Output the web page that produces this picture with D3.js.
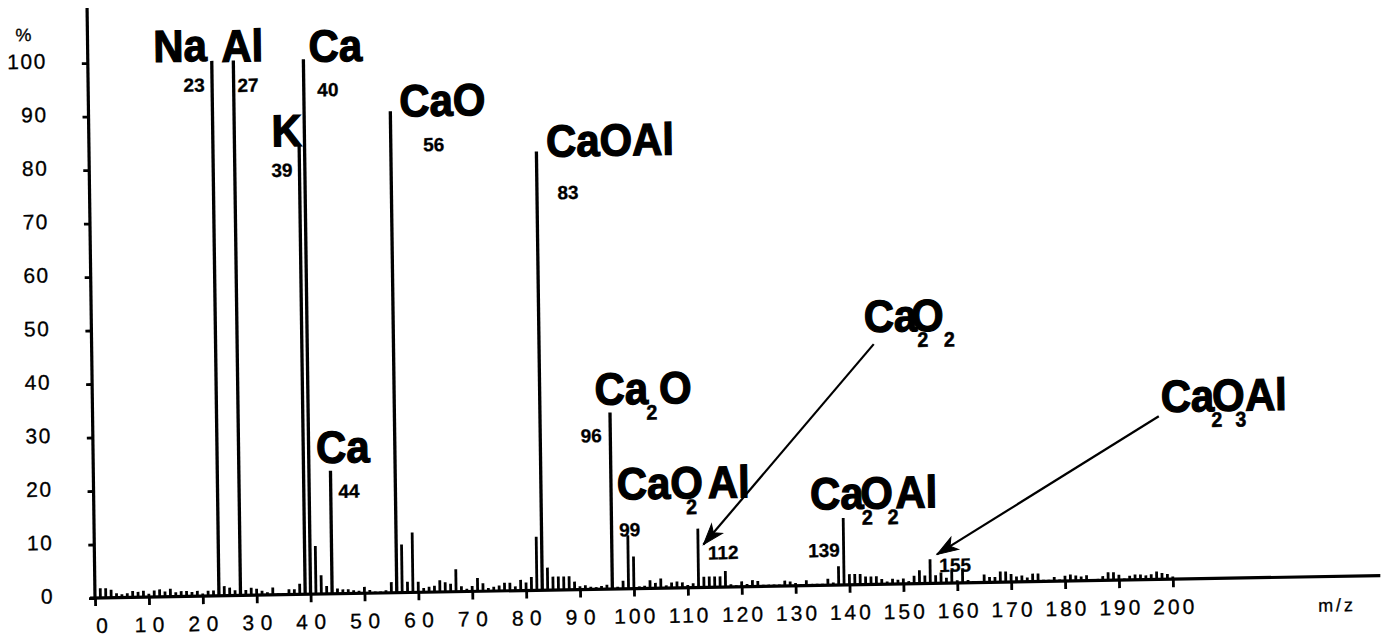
<!DOCTYPE html>
<html>
<head>
<meta charset="utf-8">
<script src="https://cdn.jsdelivr.net/npm/d3@7"></script>
<style>
    body { margin: 0; background: #fff; }
    svg { display: block; }
    .tick-label { font-family: "Liberation Sans", Arial, sans-serif; font-size: 21px; fill: #000; stroke: #000; stroke-width: 0.3px; }
    .formula { font-family: "Liberation Sans", Arial, sans-serif; font-weight: bold; font-size: 45px; fill: #000; stroke: #000; stroke-width: 1.3px; }
    .formula .sub { font-size: 21px; stroke-width: 0.6px; }
    .mass-label { font-family: "Liberation Sans", Arial, sans-serif; font-weight: bold; font-size: 19px; fill: #000; stroke: #000; stroke-width: 0.3px; }
    .unit-label { font-family: "Liberation Sans", Arial, sans-serif; font-size: 18px; fill: #000; stroke: #000; stroke-width: 0.3px; }
</style>
</head>
<body>
<div class="spectrum"></div>
<script>

// relative intensity (%) for every unit mass, m/z 1 ... 200
var intensity = [
    // 1-10
    1.8, 1.8, 1.5, 0.8, 0.6, 0.8, 1.2, 1.0, 1.2, 0.6,
    // 11-20
    1.2, 1.4, 1.0, 1.5, 0.8, 1.0, 1.0, 0.8, 1.0, 0.5,
    // 21-30
    1.0, 1.0, 100, 1.8, 1.5, 1.0, 100, 1.0, 1.4, 1.2,
    // 31-40
    0.8, 0.5, 1.4, 0.3, 0.3, 1.0, 1.0, 2.0, 84, 100,
    // 41-50
    9.0, 3.5, 1.5, 23, 1.0, 0.8, 0.8, 0.6, 0.5, 1.2,
    // 51-60
    0.6, 0.3, 0.3, 0.5, 2.0, 90, 9.0, 2.0, 11.2, 2.0,
    // 61-70
    0.8, 1.0, 1.2, 2.2, 1.8, 1.5, 4.2, 1.0, 0.5, 1.0,
    // 71-80
    2.5, 1.5, 0.6, 0.8, 1.0, 1.5, 1.5, 0.8, 2.0, 1.5,
    // 81-90
    2.5, 10, 82, 4.2, 2.5, 2.5, 2.5, 2.5, 1.5, 0.6,
    // 91-100
    0.8, 0.5, 0.4, 0.6, 0.8, 33, 0.4, 1.5, 10, 6.0,
    // 101-110
    0.4, 0.5, 1.5, 1.0, 1.8, 0.5, 1.0, 1.2, 1.0, 0.5,
    // 111-120
    0.8, 11, 2.0, 2.0, 2.0, 2.0, 3.0, 0.5, 0.3, 1.0,
    // 121-130
    0.5, 1.2, 1.0, 0.3, 0.3, 0.3, 0.3, 1.0, 0.8, 0.5,
    // 131-140
    0.3, 1.0, 0.3, 0.3, 0.3, 1.2, 0.5, 3.5, 12.5, 2.0,
    // 141-150
    2.0, 2.0, 1.5, 1.5, 1.5, 1.0, 0.5, 1.0, 0.8, 1.0,
    // 151-160
    0.5, 1.5, 2.5, 1.5, 4.5, 1.5, 2.0, 1.0, 2.5, 0.5,
    // 161-170
    2.5, 0.5, 0.3, 0.3, 1.5, 1.0, 1.0, 2.0, 2.0, 1.5,
    // 171-180
    1.0, 1.2, 0.8, 1.5, 1.5, 0.3, 0.3, 0.8, 0.3, 1.0,
    // 181-190
    1.2, 1.0, 0.8, 1.0, 0.3, 0.3, 0.8, 1.5, 1.5, 1.0,
    // 191-200
    0.3, 0.8, 1.0, 1.0, 0.8, 1.0, 1.5, 1.2, 1.0, 0.5
];

var massTicks = [0, 10, 20, 30, 40, 50, 60, 70, 80, 90, 100, 110, 120, 130, 140, 150, 160, 170, 180, 190, 200];
var percentTicks = [0, 10, 20, 30, 40, 50, 60, 70, 80, 90, 100];

// identified ions ("_" marks the subscript that follows)
var speciesFormula = ["Na", "Al", "Ca", "K", "CaO", "CaOAl", "Ca", "Ca_2O", "CaO_2Al", "Ca_2O_2", "Ca_2O_2Al", "Ca_2O_3Al"];
var speciesMass = [23, 27, 40, 39, 56, 83, 44, 96, 99, 112, 139, 155];


/*
 * Layout of the annotations, in plot units (m/z, %)
 */
var formulaAt = [[12.2, 100], [24.8, 99.8], [41.0, 99.5], [33.9, 83.8], [57.7, 89.0], [84.8, 81.0],
                 [41.4, 24.5], [93.2, 34.5], [97.1, 16.7], [143.3, 47.2], [132.9, 14.2], [198.2, 31.3]];
// horizontal nudge (px) of each formula piece, the scan has overlapping subscripts
var formulaKern = {7: [0, -2, 2], 8: [0, -17, 11], 9: [0, 0, -17, 0], 10: [0, -2, -12, -5.5, -3], 11: [0, -3, -10, -9.5, -1]};
var massAt = [[17.7, 94.3], [27.7, 94.1], [42.5, 93.0], [33.8, 78.1], [62.0, 82.4], [86.8, 73.0],
              [45.4, 17.9], [90.5, 27.5], [97.4, 9.8], [113.8, 5.2], [132.4, 5.3], [156.7, 2.1]];
// callout arrows: species index, line start and arrow tip
var callouts = [
    { species: 9, from: [145.1, 44.9], to: [113.0, 8.0] },
    { species: 11, from: [197.8, 30.5], to: [156.3, 5.4] }
];


Spectrum = function(_parentElement, _data){
    this.parentElement = _parentElement;
    this.data = _data;
    this.initVis();
}

Spectrum.prototype.initVis = function(){
    var vis = this;

    vis.width = 1078;
    vis.height = 535;

    vis.svg = d3.select("." + vis.parentElement).append("svg")
        .attr("width", 1389)
        .attr("height", 639);

    // the scanned figure is a little skewed: baseline climbs ~1.0 deg, verticals lean ~0.77 deg
    var ax = 1.0 * Math.PI / 180, ay = 0.77 * Math.PI / 180;
    vis.g = vis.svg.append("g")
        .attr("transform", "translate(95,598) matrix(" + [Math.cos(ax), -Math.sin(ax), Math.sin(ay), Math.cos(ay), 0, 0] + ") translate(0," + (-vis.height) + ")");

    vis.x = d3.scaleLinear().domain([0, 200]).range([0, vis.width]);
    vis.y = d3.scaleLinear().domain([0, 100]).range([vis.height, 0]);

    vis.xAxis = d3.axisBottom(vis.x).tickValues(massTicks).tickSize(8).tickPadding(12);
    vis.yAxis = d3.axisLeft(vis.y).tickValues(percentTicks).tickSize(6).tickPadding(35);

    vis.wrangleData();
}

Spectrum.prototype.wrangleData = function(){
    var vis = this;

    vis.displayData = vis.data.map(function(d, i) {
        return { mz: i + 1, pct: d };
    });

    vis.updateVis();
}

Spectrum.prototype.updateVis = function(){
    var vis = this;

    // axes
    vis.xAxisGroup = vis.g.append("g")
        .attr("class", "x-axis axis")
        .attr("transform", "translate(0," + vis.height + ")")
        .call(vis.xAxis);
    vis.xAxisGroup.select(".domain").remove();
    vis.xAxisGroup.selectAll("line").attr("stroke", "#000").attr("stroke-width", 2.8);
    vis.xAxisGroup.selectAll("text")
        .attr("class", "tick-label")
        .style("letter-spacing", function(d) {
            var n = String(d).length;
            return n === 2 ? "6.5px" : n === 3 ? "3px" : "0px";
        })
        .attr("dx", function(d) {
            var n = String(d).length;
            return n === 2 ? 3 : n === 3 ? 1.5 : 6;
        });

    vis.yAxisGroup = vis.g.append("g")
        .attr("class", "y-axis axis")
        .call(vis.yAxis);
    vis.yAxisGroup.select(".domain").remove();
    vis.yAxisGroup.selectAll("line").attr("stroke", "#000").attr("stroke-width", 2.8);
    vis.yAxisGroup.selectAll("text")
        .attr("class", "tick-label")
        .style("letter-spacing", "1.5px")
        .attr("dy", "0.2em");

    // axis lines
    vis.g.append("line")
        .attr("x1", 0).attr("x2", 0)
        .attr("y1", vis.y(0) + 1.5).attr("y2", vis.y(110.3))
        .attr("stroke", "#000").attr("stroke-width", 3.2);

    vis.g.append("line")
        .attr("x1", -5).attr("x2", vis.x(238.5))
        .attr("y1", vis.y(0)).attr("y2", vis.y(0))
        .attr("stroke", "#000").attr("stroke-width", 3.2);

    vis.g.append("text")
        .attr("class", "unit-label")
        .attr("x", -64).attr("y", vis.y(105.5))
        .attr("text-anchor", "middle")
        .attr("dy", "0.35em")
        .text("%");

    vis.g.append("text")
        .attr("class", "unit-label")
        .attr("x", vis.x(230.4)).attr("y", vis.height + 35)
        .attr("text-anchor", "middle")
        .style("letter-spacing", "3px")
        .text("m/z");

    // peaks
    vis.g.append("g").attr("class", "peaks")
        .selectAll("line")
        .data(vis.displayData)
        .enter()
        .append("line")
        .attr("x1", function(d) { return vis.x(d.mz); })
        .attr("x2", function(d) { return vis.x(d.mz); })
        .attr("y1", vis.y(0))
        .attr("y2", function(d) { return vis.y(d.pct); })
        .attr("stroke", "#000")
        .attr("stroke-width", function(d) { return d.pct > 20 ? 3.3 : 2.8; });

    // formulas (slightly condensed, like the heavy face of the original)
    var formulas = vis.g.append("g").attr("class", "formulas")
        .selectAll("text")
        .data(speciesFormula)
        .enter()
        .append("text")
        .attr("class", "formula")
        .attr("transform", function(d, i) {
            return "translate(" + vis.x(formulaAt[i][0]) + "," + vis.y(formulaAt[i][1]) + ") scale(0.93,1)";
        });

    formulas.each(function(d, i) {
        var el = d3.select(this);
        var kern = formulaKern[i] || [];
        var pieces = d.split(/_(\d)/);
        var shifted = false;
        pieces.forEach(function(p, k) {
            if (p === "") return;
            var isSub = k % 2 === 1;
            var dy = 0;
            if (isSub && !shifted) { dy = 16; shifted = true; }
            else if (!isSub && shifted) { dy = -16; shifted = false; }
            el.append("tspan")
                .attr("class", isSub ? "sub" : null)
                .attr("dx", (kern[k] || 0) / 0.93)
                .attr("dy", dy)
                .text(p);
        });
    });

    // mass numbers
    vis.g.append("g").attr("class", "masses")
        .selectAll("text")
        .data(speciesMass)
        .enter()
        .append("text")
        .attr("class", "mass-label")
        .attr("x", function(d, i) { return vis.x(massAt[i][0]); })
        .attr("y", function(d, i) { return vis.y(massAt[i][1]); })
        .text(function(d) { return d; });

    // callout arrows
    var arrows = vis.g.append("g").attr("class", "callouts")
        .selectAll("g")
        .data(callouts)
        .enter()
        .append("g");

    arrows.append("line")
        .attr("x1", function(d) { return vis.x(d.from[0]); })
        .attr("y1", function(d) { return vis.y(d.from[1]); })
        .attr("x2", function(d) { return vis.x(d.to[0]); })
        .attr("y2", function(d) { return vis.y(d.to[1]); })
        .attr("stroke", "#000")
        .attr("stroke-width", 2.2);

    arrows.append("path")
        .attr("d", function(d) {
            var x0 = vis.x(d.from[0]), y0 = vis.y(d.from[1]);
            var x1 = vis.x(d.to[0]), y1 = vis.y(d.to[1]);
            var a = Math.atan2(y0 - y1, x0 - x1);
            var len = 22, spread = 0.33;
            var p1 = [x1 + len * Math.cos(a - spread), y1 + len * Math.sin(a - spread)];
            var p2 = [x1 + len * Math.cos(a + spread), y1 + len * Math.sin(a + spread)];
            var pm = [x1 + 0.7 * len * Math.cos(a), y1 + 0.7 * len * Math.sin(a)];
            return "M" + p1 + "L" + x1 + "," + y1 + "L" + p2 + "L" + pm + "Z";
        })
        .attr("fill", "#000")
        .attr("stroke", "#000")
        .attr("stroke-width", 1);
}

var spectrum = new Spectrum("spectrum", intensity);

</script>
</body>
</html>
